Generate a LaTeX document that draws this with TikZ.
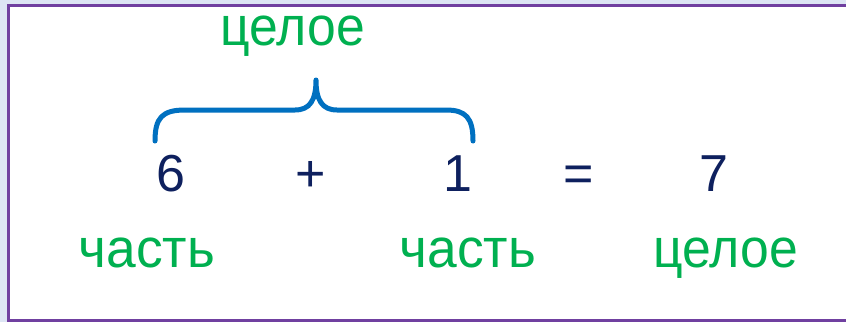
\documentclass[tikz,border=0pt]{standalone}
\usepackage{fontspec}
\setmainfont{Liberation Sans}
\definecolor{navy}{RGB}{14,32,94}
\definecolor{lblgreen}{RGB}{0,176,80}
\definecolor{bracecol}{RGB}{0,112,192}
\definecolor{framecol}{RGB}{112,64,160}
\definecolor{bgcol}{RGB}{221,229,244}
\tikzset{
  lbl/.style={text=lblgreen, anchor=base, inner sep=0pt, font=\fontsize{55}{60}\selectfont},
  num/.style={text=navy, anchor=base, inner sep=0pt, font=\fontsize{52}{58}\selectfont},
  bracestyle/.style={draw=bracecol, line width=5pt, line cap=round, line join=round},
}
\begin{document}
\begin{tikzpicture}[x=1pt,y=-1pt]
\useasboundingbox (0,0) rectangle (846,322);
\fill[bgcol] (0,0) rectangle (846,322);
\fill[white, draw=framecol, line width=3pt] (8,5) rectangle (860,320);
% top label
\node[lbl] (whole1) at (293,45) {\scalebox{0.94}[1]{целое}};
% brace
\draw[bracestyle] (155,141) .. controls (155,118) and (162,110) .. (185,110) -- (295,110)
  .. controls (310,110) and (316,100) .. (316,80)
  .. controls (316,100) and (322,110) .. (337,110) -- (446,110)
  .. controls (466,110) and (473,118) .. (473,141);
% numbers
\node[num] (six) at (171,191) {6};
\node[num] (plus) at (311,191) {+};
\node[num] (one) at (458,191) {1};
\node[num] (eq) at (579,191) {=};
\node[num] (seven) at (714,191) {7};
% bottom labels
\node[lbl] (part1) at (147,267) {\scalebox{0.97}[1]{часть}};
\node[lbl] (part2) at (468,267) {\scalebox{0.97}[1]{часть}};
\node[lbl] (whole2) at (726,267) {\scalebox{0.94}[1]{целое}};
\end{tikzpicture}
\end{document}
